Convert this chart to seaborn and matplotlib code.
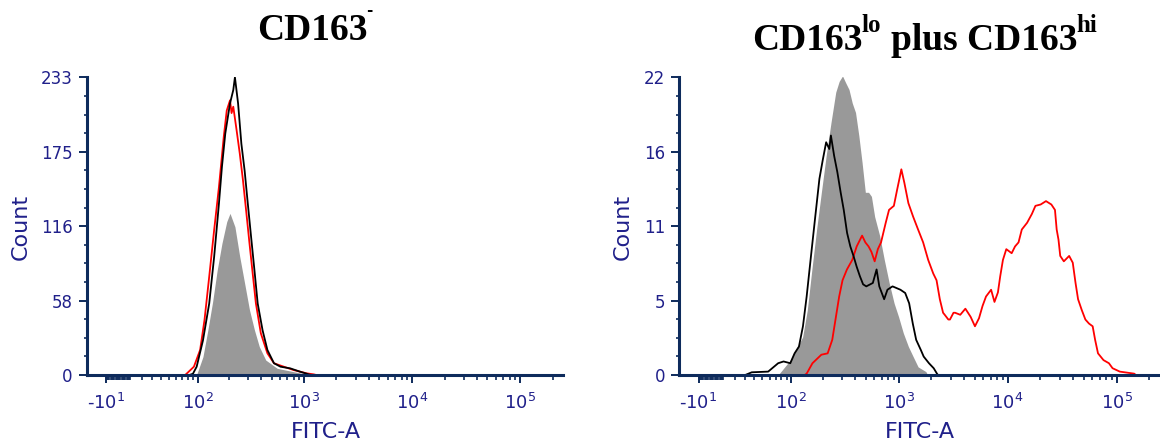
import numpy as np
import pandas as pd
import matplotlib
matplotlib.use("Agg")
import matplotlib.pyplot as plt
import seaborn as sns
from matplotlib.ticker import FixedLocator, FixedFormatter, NullFormatter

sns.set_theme(style="white")
plt.rcParams['font.family'] = ['DejaVu Sans']

# ---------------- data (FITC-A value, count) ----------------
# Left panel: CD163-
l_gray_fitc = [92, 99, 113, 126, 140, 155, 172, 191, 205, 228, 253, 281, 312, 347,
               385, 442, 565, 800, 1000, 1100]
l_gray_cnt = [0, 1.3, 14.3, 35, 57, 82, 103, 120, 126.5, 116, 92.6, 71.8, 50.9, 35.2,
              22.2, 11.7, 5.2, 2.6, 1.0, 0]

l_black_fitc = [83, 90, 98, 113, 130, 145, 161, 172, 185, 205, 220, 228, 244, 262, 281,
                301, 323, 347, 372, 413, 458, 527, 605, 746, 920, 1060, 1150]
l_black_cnt = [0, 1, 6.5, 27, 56, 92.6, 134, 163, 189, 212.6, 223, 233, 212.7, 181, 160,
               134, 108, 82, 56, 35, 19.6, 9.2, 6.5, 5.2, 2.6, 1, 0]

l_red_fitc = [75, 80, 92, 106, 117, 130, 145, 161, 179, 191, 205, 212, 220, 236, 253, 271,
              290, 312, 334, 358, 398, 458, 527, 650, 800, 1060, 1230, 1300]
l_red_cnt = [0, 2, 6.5, 19.6, 43, 77, 113.5, 147, 186.5, 207, 215, 205, 210, 192, 173.5,
             152.6, 129, 103, 79.6, 56, 32.6, 17, 9.2, 6.5, 3.9, 1.3, 0.5, 0]

# Right panel: CD163lo plus CD163hi
r_gray_fitc = [74, 98, 129, 143, 158, 175, 194, 215, 239, 264, 284, 305, 326, 350, 375,
               402, 431, 462, 495, 530, 563, 603, 670, 740, 820, 910, 1000, 1105, 1230,
               1360, 1510, 1780, 1850]
r_gray_cnt = [0, 1.1, 2.8, 4.8, 7.8, 10.75, 13.5, 16.2, 18.7, 20.9, 21.7, 22.1, 21.6, 21.1,
              20.1, 19.4, 17.7, 15.7, 13.5, 13.5, 13.2, 11.7, 10.3, 8.5, 6.8, 5.3, 4.3,
              3.1, 2.1, 1.36, 0.6, 0.25, 0]

r_black_fitc = [30, 37, 58, 74, 84, 98, 108, 119, 130, 141, 155, 170, 186, 200, 215, 230,
                238, 255, 273, 293, 313, 336, 360, 385, 412, 441, 472, 505, 580, 628, 665,
                737, 790, 880, 1040, 1150, 1250, 1350, 1450, 1600, 1700, 1900, 2100, 2250,
                2300]
r_black_cnt = [0, 0.2, 0.25, 0.87, 1.0, 0.87, 1.6, 2.1, 3.6, 5.8, 8.8, 11.7, 14.5, 15.9,
               17.2, 16.7, 17.7, 16.2, 15.0, 13.5, 12.2, 10.5, 9.5, 8.8, 8.0, 7.3, 6.7,
               6.55, 6.8, 7.8, 6.55, 5.6, 6.3, 6.55, 6.3, 6.06, 5.3, 3.8, 2.6, 1.85, 1.36,
               0.87, 0.5, 0.1, 0]

r_red_fitc = [135, 141, 160, 194, 222, 245, 265, 284, 305, 335, 375, 412, 462, 495, 530,
              563, 603, 645, 690, 762, 817, 905, 970, 1030, 1060, 1130, 1230, 1360, 1510,
              1680, 1870, 2080, 2230, 2390, 2560, 2650, 2860, 2960, 3190, 3300, 3680,
              4100, 4580, 5020, 5470, 5890, 6340, 7060, 7580, 8150, 8560, 9060, 9730,
              10900, 11700, 12600, 13500, 15100, 16700, 18000, 20100, 22500, 25200,
              27200, 28200, 29300, 30400, 32800, 36700, 39600, 42000, 44300, 47900,
              51700, 55800, 60300, 63500, 67500, 75800, 85000, 91800, 107000, 145000,
              150000]
r_red_cnt = [0, 0.1, 0.87, 1.5, 1.6, 2.6, 4.3, 5.8, 7.0, 7.8, 8.5, 9.5, 10.3, 9.8, 9.5,
             9.1, 8.4, 9.3, 9.8, 11.25, 12.2, 12.5, 13.7, 14.7, 15.2, 14.2, 12.7, 11.7,
             10.75, 9.8, 8.5, 7.5, 7.0, 5.6, 4.6, 4.45, 4.1, 4.1, 4.6, 4.6, 4.45, 4.9,
             4.3, 3.6, 4.2, 5.1, 5.8, 6.3, 5.4, 6.1, 7.3, 8.5, 9.3, 9.0, 9.5, 9.8, 10.75,
             11.25, 11.9, 12.5, 12.6, 12.85, 12.6, 12.2, 10.75, 10.0, 8.8, 8.4, 8.8, 8.3,
             6.8, 5.6, 4.8, 4.1, 3.8, 3.6, 2.6, 1.6, 1.1, 0.87, 0.5, 0.25, 0.1, 0]

x_major = [-10, 1e2, 1e3, 1e4, 1e5]
x_major_labels = [r'-$\mathregular{10^{1}}$', r'$\mathregular{10^{2}}$',
                  r'$\mathregular{10^{3}}$', r'$\mathregular{10^{4}}$',
                  r'$\mathregular{10^{5}}$']
l_ymax = 233
l_ylabels = ['0', '58', '116', '175', '233']
r_ymax = 22
r_ylabels = ['0', '5', '11', '16', '22']

# ---------------- biexponential-like display scale ----------------
C = 38.0
def fwd(v):
    return np.arcsinh(np.asarray(v, dtype=float) / C)

def inv(t):
    return C * np.sinh(np.asarray(t, dtype=float))

XMIN, XMAX = -27.3, 2.5e5

NAVY = '#0e2b5c'
TXT = '#20208a'
W, H = 1160, 446

fig = plt.figure(figsize=(W / 100, H / 100), dpi=100)
fig.patch.set_facecolor('white')
ax1 = fig.add_axes([86.7 / W, (H - 375) / H, 476.3 / W, 297.7 / H])
ax2 = fig.add_axes([679.3 / W, (H - 375) / H, 480.7 / W, 297.7 / H])

minor_x = ([-k for k in range(1, 10)] + [0] + list(range(1, 10)) +
           list(range(10, 100, 10)) +
           [k * 10 ** d for d in (2, 3, 4) for k in range(2, 10)] + [2e5])


def draw(ax, gx, gy, rx, ry, kx, ky, ymax, ylabels):
    ax.set_facecolor('white')
    ax.fill_between(gx, gy, 0, color='#999999', lw=0, zorder=1)
    sns.lineplot(x=rx, y=ry, ax=ax, color='#ff0000', lw=1.3, estimator=None,
                 sort=False, legend=False, zorder=3)
    sns.lineplot(x=kx, y=ky, ax=ax, color='black', lw=1.3, estimator=None,
                 sort=False, legend=False, zorder=4)
    ax.set_xscale('function', functions=(fwd, inv))
    ax.set_xlim(XMIN, XMAX)
    ax.set_ylim(0, ymax)
    ax.set_xlabel('')
    ax.set_ylabel('')
    ax.grid(False)
    for s in ('top', 'right'):
        ax.spines[s].set_visible(False)
    for s in ('left', 'bottom'):
        ax.spines[s].set_visible(True)
        ax.spines[s].set_color(NAVY)
        ax.spines[s].set_linewidth(2.2)
        ax.spines[s].set_zorder(6)

    ax.xaxis.set_major_locator(FixedLocator(x_major))
    ax.xaxis.set_major_formatter(FixedFormatter(x_major_labels))
    ax.xaxis.set_minor_locator(FixedLocator(minor_x))
    ax.xaxis.set_minor_formatter(NullFormatter())

    ymaj = [ymax * k / 4 for k in range(5)]
    ymin = [ymax * k / 16 for k in range(17) if k % 4]
    ax.yaxis.set_major_locator(FixedLocator(ymaj))
    ax.yaxis.set_major_formatter(FixedFormatter(ylabels))
    ax.yaxis.set_minor_locator(FixedLocator(ymin))
    ax.yaxis.set_minor_formatter(NullFormatter())

    ax.tick_params(axis='x', which='major', direction='out', length=6, width=1.4,
                   color=NAVY, pad=7, labelsize=13, labelcolor=TXT, bottom=True)
    ax.tick_params(axis='x', which='minor', direction='out', length=3.5, width=1.2,
                   color=NAVY, bottom=True)
    ax.tick_params(axis='y', which='major', direction='out', length=6, width=1.4,
                   color=NAVY, pad=4, labelsize=12, labelcolor=TXT, left=True)
    ax.tick_params(axis='y', which='minor', direction='out', length=2.5, width=1.2,
                   color=NAVY, left=True)


draw(ax1, l_gray_fitc, l_gray_cnt, l_red_fitc, l_red_cnt, l_black_fitc, l_black_cnt,
     l_ymax, l_ylabels)
draw(ax2, r_gray_fitc, r_gray_cnt, r_red_fitc, r_red_cnt, r_black_fitc, r_black_cnt,
     r_ymax, r_ylabels)

# axis titles
for cx in (21, 623):
    fig.text(cx / W, 1 - 227 / H, 'Count', rotation=90, ha='center', va='center',
             fontsize=16, color=TXT)
for cx in (326, 920):
    fig.text(cx / W, 1 - 432 / H, 'FITC-A', ha='center', va='center',
             fontsize=16, color=TXT)

# panel titles
tkw = dict(family='Liberation Serif', weight='bold', color='black', ha='left',
           va='baseline')
fig.text(257 / W, 1 - 40 / H, 'CD163', fontsize=27, **tkw)
fig.text(366 / W, 1 - 15.2 / H, '-', fontsize=11, family='DejaVu Sans',
         weight='bold', color='black', ha='left', va='baseline')

fig.text(752 / W, 1 - 50 / H, 'CD163', fontsize=27, **tkw)
fig.text(862 / W, 1 - 31.5 / H, 'lo', fontsize=18, **tkw)
fig.text(891 / W, 1 - 50 / H, 'plus CD163', fontsize=27, **tkw)
fig.text(1076 / W, 1 - 31.5 / H, 'hi', fontsize=18, **tkw)

fig.savefig('out.png', dpi=100, facecolor='white')
